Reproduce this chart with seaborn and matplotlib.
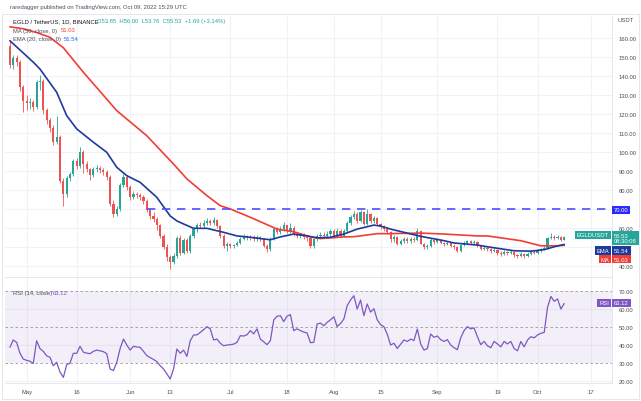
import numpy as np
import pandas as pd
import matplotlib
matplotlib.use("Agg")
import matplotlib.pyplot as plt
import matplotlib.dates as mdates
from matplotlib.patches import Rectangle
import seaborn as sns

sns.set_theme(style="white")
plt.rcParams["font.family"] = ["Liberation Sans", "DejaVu Sans"]

# -----------------------------
# Data (EGLD / USDT daily)
# -----------------------------
start_date = "2022-04-26"
first_open = 156.0

closes = [146, 149.5, 147.5, 134.5, 127, 126, 126.5, 124, 137, 137.5,
          122, 117, 113, 105.5, 108, 85, 78, 86.5, 88.5, 95.5,
          93, 100, 94, 91, 88, 91, 92, 90.5, 89.5, 87,
          73, 67.5, 70, 83, 87, 81.5, 76.5, 78, 77.5, 76.5,
          74.5, 69.5, 66.5, 65, 61.5, 56, 50, 45, 42.5, 45.5,
          55, 47, 54, 48, 56, 59.5, 62, 61, 63, 64,
          63, 64.5, 61, 56, 50.5, 51.5, 50.5, 51, 52.5, 54.5,
          55.5, 55, 55.5, 54.5, 55.5, 54.5, 50.5, 49, 54.5, 59.5,
          58, 59.5, 61.5, 58.5, 60, 57, 56, 56.5, 55.5, 55,
          50.5, 54.5, 56, 56.5, 56, 57, 58.5, 56, 58.5, 56,
          58.5, 63, 66, 67.5, 64, 68.5, 62.5, 67.5, 64, 65.5,
          62.5, 60.5, 59.5, 58, 54.5, 55.5, 52, 53.5, 54.5, 53.5,
          54.5, 54, 58.5, 52, 50, 50.5, 54, 53, 54, 52.5,
          51.5, 52.5, 50.8, 50, 48.2, 51, 52.5, 53.3, 52.5, 53,
          50.5, 49, 49.5, 49, 48, 48.5, 47, 46.5, 47.5, 47,
          47.5, 46, 45.5, 46.5, 45.5, 46.5, 47.5, 47, 48, 49,
          49.5, 55, 55.5, 55, 55.5, 53.85, 55.53]

highs = [159, 151, 151, 148.5, 135.5, 130, 128.5, 127.5, 138, 140.5,
         138.5, 123.5, 118, 114.5, 119, 109, 86.5, 87.5, 89.5, 96.5,
         97, 102.6, 101, 95.5, 92, 92.5, 93.5, 93, 91.5, 90.5,
         88, 75, 72, 84, 88.5, 88, 83, 79.5, 79, 78.5,
         77.5, 75.5, 70.5, 68.5, 66, 62.5, 57, 51.5, 46, 47,
         56, 56.5, 55, 55, 57, 60.5, 63, 63.5, 64.5, 65.5,
         65, 66, 65, 62, 57, 53, 52.5, 52, 53.5, 55.5,
         57, 56.5, 56.5, 56.5, 56.5, 56, 55, 51.5, 55.5, 60.5,
         60.5, 61, 63.3, 62, 63, 61, 58, 57.5, 57.5, 56.5,
         55.5, 55, 57, 58, 58, 58.5, 59.5, 59.5, 60, 59.5,
         59.5, 64, 67, 69, 68.5, 69.5, 69, 70, 68, 66.5,
         66, 63, 61.5, 60.5, 58.5, 56.5, 56, 54.5, 55.5, 55.5,
         55.5, 55.5, 60, 59, 52.5, 51.5, 55, 54.5, 55, 54.5,
         53, 53.5, 53, 51.5, 50.5, 51.5, 53.5, 54, 54, 54,
         53.5, 51, 50.5, 50, 49.5, 49.5, 49, 48, 48.5, 48,
         48.5, 48, 46.5, 47.5, 47, 47.5, 48.5, 48.5, 49, 49.5,
         50.5, 55.5, 57.5, 56.5, 56.5, 56, 56]

lows = [144.5, 144, 145.5, 132, 121, 122.5, 123, 121.5, 123, 133,
        120, 115, 110.5, 104, 104.5, 84, 72, 76.5, 85, 87.5,
        91, 92, 89, 89.5, 85.5, 87, 89.5, 89, 88, 85.5,
        72, 66, 66.5, 69, 81.5, 80, 75, 75.5, 76, 75,
        73, 68.5, 65, 63.5, 59, 55, 49, 43, 38.6, 41,
        44.5, 46, 46.5, 47, 47, 55, 58, 60, 60, 62,
        61.5, 62, 60, 55, 49.5, 48, 49.5, 49.5, 50.5, 51.5,
        54, 54, 54, 53.5, 53.5, 53.5, 50, 47.5, 48, 54,
        57, 57, 58.5, 57.5, 57.5, 56, 55, 55, 54.5, 53.5,
        49.5, 49.5, 53.5, 55, 55, 55.5, 56, 55, 55.5, 55.5,
        55.5, 58, 62, 65, 63, 63.5, 61.5, 62, 63, 63,
        61.5, 59.5, 58.5, 57, 53, 53, 51, 51, 52.5, 52.5,
        52.5, 53, 53.5, 51.5, 49, 49, 50, 52, 52.5, 52,
        50.5, 51, 50, 49, 47.5, 47.5, 50.5, 52, 51.5, 52,
        50, 48.5, 48.5, 48, 47, 47.5, 46, 45.5, 46, 46,
        46.5, 45, 44.5, 45, 44.5, 45, 46, 46.5, 46.5, 47.5,
        48.5, 49, 54.5, 54, 54.5, 53.5, 53.76]

rsi = [38.7, 42.8, 41.5, 35.5, 32.2, 31.5, 31, 29.8, 42.4, 38,
       36.5, 34, 33.2, 28.5, 30.4, 25, 22, 29, 30, 35.4,
       35.4, 39.3, 36, 35.5, 35.2, 36.5, 37.2, 36.8, 36.3, 35.2,
       26.7, 25.8, 30.4, 38, 43.3, 40, 37.2, 39.3, 38.9, 38.7,
       36.5, 34.1, 33, 32, 30.8, 28.5, 26.7, 24, 21.1, 26.7,
       37.8, 35.4, 37.2, 33.7, 42.4, 45.6, 45.6, 47, 48.5, 50.2,
       49, 42.8, 43.3, 41, 39.6, 40, 40.2, 40.5, 41.5, 45.2,
       45, 45.7, 48, 46.2, 49, 43.3, 41.8, 40.2, 42.4, 53.9,
       56, 56.3, 53, 56, 56.9, 48, 49, 48, 47.2, 46.7,
       41.3, 41.5, 51.7, 52.2, 50.7, 52.6, 54, 55.7, 50.2, 52,
       54.4, 61.9, 65, 67.4, 60, 65, 56.3, 62.8, 58.3, 60.2,
       54, 51.3, 50.2, 46, 40, 41, 38.1, 40.5, 42.8, 42,
       43.3, 42.5, 48.9, 40.6, 37.2, 38, 46.1, 44.3, 45, 43,
       42, 43, 40, 38.5, 37.4, 44, 48, 50.2, 49, 49.5,
       44.6, 40.2, 42, 39.6, 38.5, 42, 40.6, 39, 42, 40.6,
       42, 38, 36.8, 42, 39, 42.8, 44.6, 44, 45.6, 46.5,
       47, 61, 67, 64.3, 65.6, 60, 63.12]

ema_dates = ["2022-04-26", "2022-05-03", "2022-05-05", "2022-05-10", "2022-05-13",
             "2022-05-16", "2022-05-21", "2022-05-25", "2022-05-28", "2022-05-31",
             "2022-06-04", "2022-06-09", "2022-06-13", "2022-06-15", "2022-06-17",
             "2022-06-20", "2022-06-24", "2022-06-29", "2022-07-03", "2022-07-07",
             "2022-07-11", "2022-07-13", "2022-07-16", "2022-07-20", "2022-07-24",
             "2022-07-27", "2022-07-31", "2022-08-04", "2022-08-08", "2022-08-13",
             "2022-08-15", "2022-08-18", "2022-08-22", "2022-08-27", "2022-09-03",
             "2022-09-06", "2022-09-13", "2022-09-16", "2022-09-24", "2022-09-29",
             "2022-10-03", "2022-10-06", "2022-10-09"]
ema_vals = [158.7, 147.4, 143.8, 131.6, 119.3,
            112.3, 105.3, 100, 92.1, 87.7,
            84.2, 76.3, 66.5, 63.9, 62.3,
            60, 60, 57.9, 56, 55.3,
            54.4, 54, 55.5, 57, 56,
            55, 55.3, 57, 59.6, 61.7,
            61.2, 59.6, 57.9, 55.8, 53.5,
            52.3, 51.2, 50.3, 48.2, 48,
            48.8, 50.3, 51.54]

ma_dates = ["2022-04-26", "2022-04-30", "2022-05-04", "2022-05-08", "2022-05-12",
            "2022-05-18", "2022-05-28", "2022-06-06", "2022-06-14", "2022-06-18",
            "2022-06-24", "2022-06-28", "2022-07-01", "2022-07-07", "2022-07-15",
            "2022-07-20", "2022-07-25", "2022-07-28", "2022-08-04", "2022-08-07",
            "2022-08-14", "2022-08-17", "2022-08-24", "2022-08-27", "2022-09-03",
            "2022-09-13", "2022-09-16", "2022-09-26", "2022-10-02", "2022-10-06",
            "2022-10-09"]
ma_vals = [166, 165, 163, 160.5, 155,
           142.1, 121.9, 108.7, 93.8, 86,
           77.2, 71.9, 70.2, 65.8, 59.6,
           58.2, 55.5, 54.6, 55.5, 55.6,
           57.2, 57.2, 57.4, 57.5, 57,
           56, 56, 53.5, 50.8, 50.8,
           51.03]

resistance = 70.0
resistance_from = "2022-06-06"

price_ticks = [40, 60, 80, 90, 100, 110, 120, 130, 140, 150, 160]   # 50 and 70 sit under the tags
rsi_ticks = [20, 30, 40, 50, 60, 70]

tick_dates = ["2022-05-01", "2022-05-16", "2022-06-01", "2022-06-13", "2022-07-01", "2022-07-18",
              "2022-08-01", "2022-08-15", "2022-09-01", "2022-09-19", "2022-10-01", "2022-10-17"]
tick_labels = ["May", "16", "Jun", "13", "Jul", "18", "Aug", "15", "Sep", "19", "Oct", "17"]

# -----------------------------
# Frame
# -----------------------------
UP, DOWN = "#26a69a", "#ef5350"
EMA_C, MA_C, RSI_C = "#1e3a9a", "#f23c36", "#7e57c2"
LINE_C = "#4d4dff"
GRID = "#f0f2f7"
TXT = "#4a4e5a"

dates = pd.date_range(start_date, periods=len(closes), freq="D")
opens = [first_open] + closes[:-1]
df = pd.DataFrame({"date": dates, "open": opens, "high": highs,
                   "low": lows, "close": closes, "rsi": rsi})
ema = pd.DataFrame({"date": pd.to_datetime(ema_dates), "val": ema_vals})
ma = pd.DataFrame({"date": pd.to_datetime(ma_dates), "val": ma_vals})

W, H = 641, 402
fig = plt.figure(figsize=(W / 100, H / 100), dpi=100)
fig.patch.set_facecolor("white")


def fx(x):
    return x / W


def fy(y):
    return 1 - y / H


ax = fig.add_axes([fx(5), fy(278), fx(612) - fx(5), fy(17) - fy(278)])
ax2 = fig.add_axes([fx(5), fy(384), fx(612) - fx(5), fy(278) - fy(384)], sharex=ax)

t0 = mdates.date2num(pd.Timestamp(start_date))
ax.set_xlim(t0 - 1.47, t0 + 180.3)
ax.set_ylim(34.4, 171.7)
ax2.set_ylim(18.9, 77.8)

# grid
ticks = pd.to_datetime(tick_dates)
for a in (ax, ax2):
    for t in ticks:
        a.axvline(t, color=GRID, linewidth=0.8, zorder=0)
for p in range(40, 170, 10):
    ax.axhline(p, color=GRID, linewidth=0.8, zorder=0)
for r in (20, 40, 60):
    ax2.axhline(r, color=GRID, linewidth=0.8, zorder=0)

# -----------------------------
# Candles
# -----------------------------
up = df["close"] >= df["open"]
cols = np.where(up, UP, DOWN)
ax.vlines(df["date"], df["low"], df["high"], colors=cols, linewidth=0.6, zorder=2)
body = (df["close"] - df["open"]).abs().clip(lower=0.25)
ax.bar(df["date"], body, bottom=df[["open", "close"]].min(axis=1),
       width=0.65, color=cols, linewidth=0, zorder=3)

sns.lineplot(data=ma, x="date", y="val", ax=ax, color=MA_C, linewidth=1.2, zorder=4)
sns.lineplot(data=ema, x="date", y="val", ax=ax, color=EMA_C, linewidth=1.2, zorder=4)
ax.hlines(resistance, pd.Timestamp(resistance_from), t0 + 180.3, colors=LINE_C,
          linestyles=(0, (5, 4)), linewidth=1.2, zorder=4)

# -----------------------------
# RSI
# -----------------------------
ax2.axhspan(30, 70, color=RSI_C, alpha=0.09, linewidth=0, zorder=0)
for lvl in (70, 50, 30):
    ax2.axhline(lvl, color="#9598a1", linestyle=(0, (3, 3)), linewidth=0.6, zorder=1)
sns.lineplot(data=df, x="date", y="rsi", ax=ax2, color=RSI_C, linewidth=0.9, zorder=3)

# -----------------------------
# Axes styling
# -----------------------------
fs = 4.2
for a in (ax, ax2):
    a.set_xlabel("")
    a.set_ylabel("")
    a.yaxis.tick_right()
    a.tick_params(axis="y", length=0, pad=5, labelsize=fs, labelcolor=TXT)
    for s in a.spines.values():
        s.set_visible(False)
    a.spines["right"].set_visible(True)
    a.spines["right"].set_color("#e0e3eb")
    a.spines["right"].set_linewidth(0.6)

ax.set_yticks(price_ticks)
ax.yaxis.set_major_formatter(matplotlib.ticker.FormatStrFormatter("%.2f"))
ax.tick_params(axis="x", bottom=False, labelbottom=False)
ax2.set_yticks(rsi_ticks)
ax2.yaxis.set_major_formatter(matplotlib.ticker.FormatStrFormatter("%.2f"))
for side in ("top", "bottom"):
    ax2.spines[side].set_visible(True)
    ax2.spines[side].set_color("#e0e3eb")
    ax2.spines[side].set_linewidth(0.6)
ax2.set_xticks(ticks)
ax2.set_xticklabels(tick_labels)
ax2.tick_params(axis="x", length=0, pad=4, labelsize=fs, labelcolor=TXT)

# outer frame
fig.add_artist(Rectangle((fx(2), fy(400)), fx(639) - fx(2), fy(15) - fy(400),
                         fill=False, edgecolor="#e0e3eb", linewidth=0.6,
                         transform=fig.transFigure))

# -----------------------------
# Texts
# -----------------------------
fig.text(fx(10), fy(8), "raredagger published on TradingView.com, Oct 09, 2022 15:29 UTC",
         fontsize=fs, color=TXT, va="center")
fig.text(fx(13), fy(22), "EGLD / TetherUS, 1D, BINANCE", fontsize=fs, color="#131722", va="center")
fig.text(fx(97), fy(22), "O53.85  H56.00  L53.76  C55.53  +1.69 (+3.14%)",
         fontsize=fs, color=UP, va="center")
fig.text(fx(13), fy(31), "MA (50, close, 0)", fontsize=fs, color=TXT, va="center")
fig.text(fx(61), fy(31), "51.03", fontsize=fs, color=MA_C, va="center")
fig.text(fx(13), fy(39.5), "EMA (20, close, 0)", fontsize=fs, color=TXT, va="center")
fig.text(fx(64), fy(39.5), "51.54", fontsize=fs, color="#2962ff", va="center")
fig.text(fx(13), fy(293.5), "RSI (14, close)", fontsize=fs, color=TXT, va="center")
fig.text(fx(53), fy(293.5), "63.12", fontsize=fs, color=RSI_C, va="center")
fig.text(fx(617), fy(21), "USDT", fontsize=fs, color=TXT, va="center")


def tag(x, y, s, fc, ha="left"):
    fig.text(fx(x), fy(y), s, fontsize=fs, color="white", va="center", ha=ha,
             linespacing=1.0, bbox=dict(boxstyle="square,pad=0.3", fc=fc, ec="none"),
             zorder=10)


tag(614, 211, "70.00", "#2a2aff")
tag(614, 239, "55.53\n08:30:08", UP)
tag(609, 236, "EGLDUSDT", UP, ha="right")
tag(614, 251.5, "51.54", EMA_C)
tag(609, 251.5, "EMA", EMA_C, ha="right")
tag(614, 260, "51.03", MA_C)
tag(609, 260, "MA", MA_C, ha="right")
tag(614, 304, "63.12", RSI_C)
tag(609, 304, "RSI", RSI_C, ha="right")

fig.savefig("out.png", dpi=100)
